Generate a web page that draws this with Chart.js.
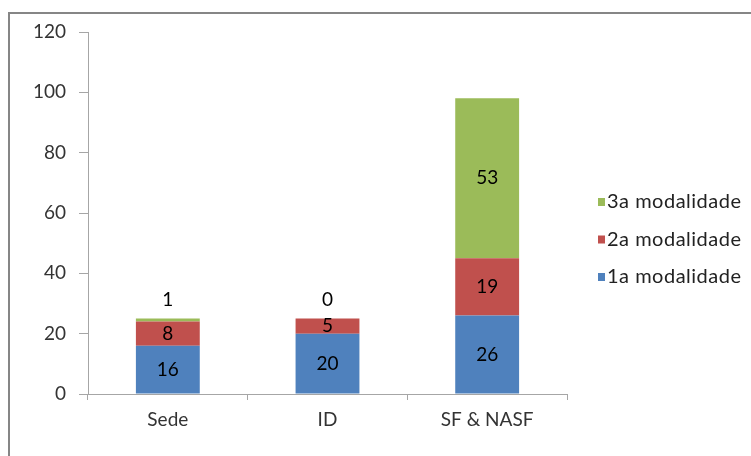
<!DOCTYPE html>
<html>
<head>
<meta charset="utf-8">
<script src="https://cdn.jsdelivr.net/npm/chart.js@4/dist/chart.umd.min.js"></script>
<style>
  html, body { margin: 0; padding: 0; background: #fff; }
  #wrap { width: 751px; height: 456px; }
</style>
</head>
<body>
<div id="wrap"><canvas id="grafico" width="751" height="456"></canvas></div>
<script>
const categorias = ['Sede', 'ID', 'SF & NASF'];
const modalidade1 = [16, 20, 26];
const modalidade2 = [8, 5, 19];
const modalidade3 = [1, 0, 53];
const ticksY = [0, 20, 40, 60, 80, 100, 120];

const fonte = 'Lato, "Open Sans", sans-serif';

// moldura cinza em volta do grafico
const moldura = {
  id: 'moldura',
  beforeDraw(chart) {
    const c = chart.ctx;
    c.save();
    c.fillStyle = '#fff';
    c.fillRect(0, 0, chart.width, chart.height);
    c.strokeStyle = '#868686';
    c.lineWidth = 2;
    c.strokeRect(9, 13, 800, 500);
    c.restore();
  }
};

// rotulos dos valores em cada segmento
const rotulos = {
  id: 'rotulos',
  afterDatasetsDraw(chart) {
    const c = chart.ctx;
    const y = chart.scales.y;
    c.save();
    c.font = '19px ' + fonte;
    c.fillStyle = '#000';
    c.textAlign = 'center';
    c.textBaseline = 'middle';
    chart.data.datasets.forEach((ds, i) => {
      const meta = chart.getDatasetMeta(i);
      meta.data.forEach((bar, j) => {
        const v = ds.data[j];
        let topo = 0;
        for (let k = 0; k <= i; k++) topo += chart.data.datasets[k].data[j];
        let py;
        if (v < 3) py = y.getPixelForValue(topo) - 19;
        else py = (bar.y + bar.base) / 2;
        c.fillText(String(v), bar.x, py);
      });
    });
    c.restore();
  }
};

// legenda a direita, na ordem inversa
const legenda = {
  id: 'legenda',
  afterDraw(chart) {
    const c = chart.ctx;
    const ds = chart.data.datasets;
    c.save();
    c.font = '20px ' + fonte;
    c.letterSpacing = '0.5px';
    c.textBaseline = 'middle';
    c.textAlign = 'left';
    const x = 598;
    let py = 202;
    for (let i = ds.length - 1; i >= 0; i--) {
      c.fillStyle = ds[i].backgroundColor;
      c.fillRect(x, py - 4, 7, 8);
      c.fillStyle = '#222';
      c.fillText(ds[i].label, x + 9, py);
      py += 37.5;
    }
    c.restore();
  }
};

const grafico = new Chart(document.getElementById('grafico'), {
  type: 'bar',
  data: {
    labels: categorias,
    datasets: [
      { label: '1a modalidade', data: modalidade1, backgroundColor: '#4F81BD' },
      { label: '2a modalidade', data: modalidade2, backgroundColor: '#C0504D' },
      { label: '3a modalidade', data: modalidade3, backgroundColor: '#9BBB59' }
    ]
  },
  options: {
    responsive: false,
    animation: false,
    layout: { padding: { left: 0, right: 184, top: 32, bottom: 22 } },
    datasets: { bar: { categoryPercentage: 1, barPercentage: 0.4 } },
    plugins: {
      legend: { display: false },
      tooltip: { enabled: false }
    },
    scales: {
      x: {
        stacked: true,
        offset: true,
        grid: { drawOnChartArea: false, offset: true, tickLength: 6, color: '#a6a6a6' },
        border: { color: '#a6a6a6', width: 1 },
        ticks: { font: { family: fonte, size: 19 }, color: '#333', padding: 8 },
        afterFit: s => { s.height = 40; }
      },
      y: {
        stacked: true,
        min: 0,
        max: 120,
        afterBuildTicks: s => { s.ticks = ticksY.map(v => ({ value: v })); },
        grid: { drawOnChartArea: false, tickLength: 9, color: '#a6a6a6' },
        border: { color: '#a6a6a6', width: 1 },
        ticks: { font: { family: fonte, size: 19 }, color: '#333', padding: 13 },
        afterFit: s => { s.width = 88; }
      }
    }
  },
  plugins: [moldura, rotulos, legenda]
});
</script>
</body>
</html>
